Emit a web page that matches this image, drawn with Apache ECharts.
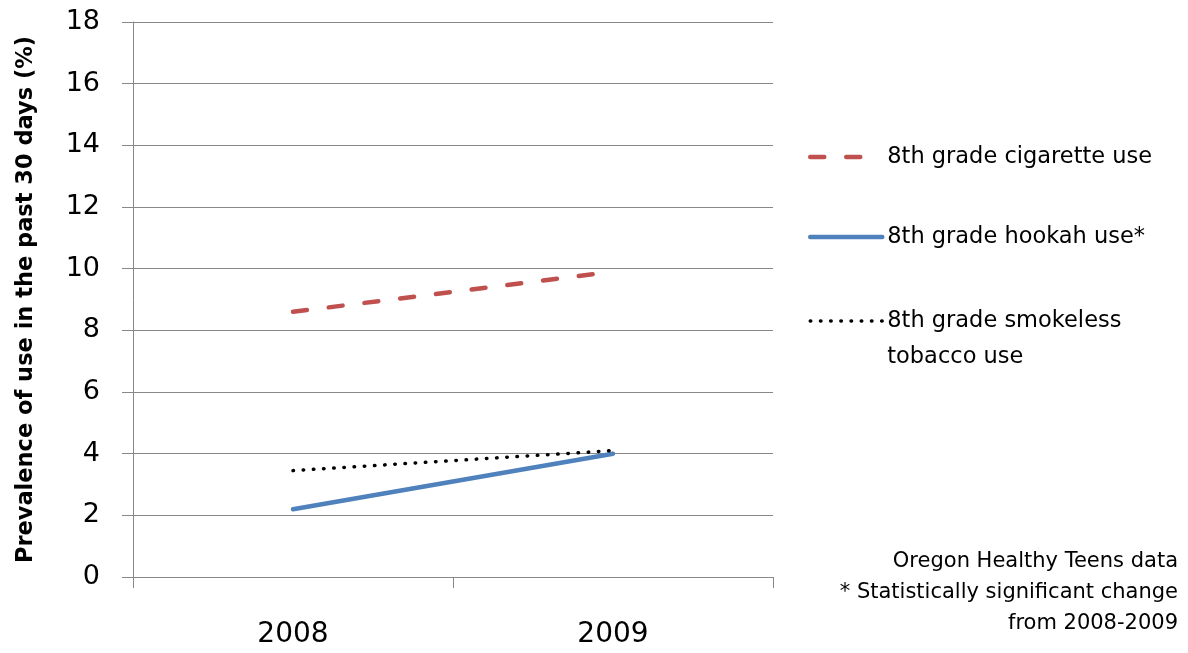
<!DOCTYPE html>
<html><head><meta charset="utf-8">
<script src="https://cdn.jsdelivr.net/npm/echarts@6/dist/echarts.min.js"></script>
<style>html,body{margin:0;padding:0;background:#fff}#c{width:1188px;height:653px}</style>
</head><body><div id="c"></div>
<script>
const years = ['2008', '2009'];
const cigarette = [8.6, 9.9];
const hookah = [2.2, 4.0];
const smokeless = [3.45, 4.1];
const yTicks = {min: 0, max: 18, interval: 2};
const names = ['8th grade cigarette use', '8th grade hookah use*', '8th grade smokeless\ntobacco use'];
const note = 'Oregon Healthy Teens data\n* Statistically significant change\nfrom 2008-2009';

const FONT = 'DejaVu Sans';
const styles = [
  {color: '#C0504D', width: 4.5, type: [14, 22], cap: 'round'},
  {color: '#4F81BD', width: 4.5, type: 'solid', cap: 'round'},
  {color: '#000', width: 3.5, type: [0.5, 9.7], cap: 'round'}
];
const chart = echarts.init(document.getElementById('c'), null, {renderer: 'canvas'});
chart.setOption({
  backgroundColor: '#fff',
  animation: false,
  textStyle: {fontFamily: FONT},
  grid: {left: 133, right: 415, top: 22, bottom: 76, containLabel: false, outerBoundsMode: 'none'},
  xAxis: {
    type: 'category', data: years, boundaryGap: true,
    axisLine: {lineStyle: {color: '#888', width: 1}},
    axisTick: {show: true, length: 11, lineStyle: {color: '#888'}},
    axisLabel: {fontSize: 28, color: '#000', margin: 44, fontFamily: FONT},
    splitLine: {show: false}
  },
  yAxis: {
    type: 'value', min: yTicks.min, max: yTicks.max, interval: yTicks.interval,
    name: 'Prevalence of use in the past 30 days (%)', nameLocation: 'middle', nameGap: 95,
    nameTextStyle: {fontSize: 22.5, fontWeight: 'bold', color: '#000', fontFamily: FONT},
    axisLine: {show: true, lineStyle: {color: '#888', width: 1}},
    axisTick: {show: true, length: 11, lineStyle: {color: '#888'}},
    axisLabel: {fontSize: 27, color: '#000', margin: 33, fontFamily: FONT},
    splitLine: {show: true, lineStyle: {color: '#888', width: 1}}
  },
  legend: {
    orient: 'vertical', left: 803, top: 102, itemWidth: 72, itemHeight: 14, itemGap: 0,
    itemStyle: {opacity: 0},
    textStyle: {fontSize: 22.5, color: '#000', fontFamily: FONT, lineHeight: 36},
    formatter: function (n) { return n.indexOf('\n') >= 0 ? '\n' + n : n; },
    data: [
      {name: names[0], textStyle: {padding: [32, 0, 32, 0]}, lineStyle: styles[0], itemStyle: {opacity: 0}},
      {name: names[1], textStyle: {padding: [12, 0, 12, 0]}, lineStyle: styles[1], itemStyle: {opacity: 0}},
      {name: names[2], lineStyle: styles[2], itemStyle: {opacity: 0}}
    ]
  },
  graphic: [{
    type: 'text', right: 10, top: 546,
    style: {text: note, fill: '#000', font: '21px "' + FONT + '"', textAlign: 'right', lineHeight: 31}
  }],
  series: [
    {name: names[0], type: 'line', data: cigarette, symbol: 'none', lineStyle: styles[0], itemStyle: {color: styles[0].color}},
    {name: names[1], type: 'line', data: hookah, symbol: 'none', lineStyle: styles[1], itemStyle: {color: styles[1].color}},
    {name: names[2], type: 'line', data: smokeless, symbol: 'none', lineStyle: styles[2], itemStyle: {color: styles[2].color}}
  ]
});
</script></body></html>
